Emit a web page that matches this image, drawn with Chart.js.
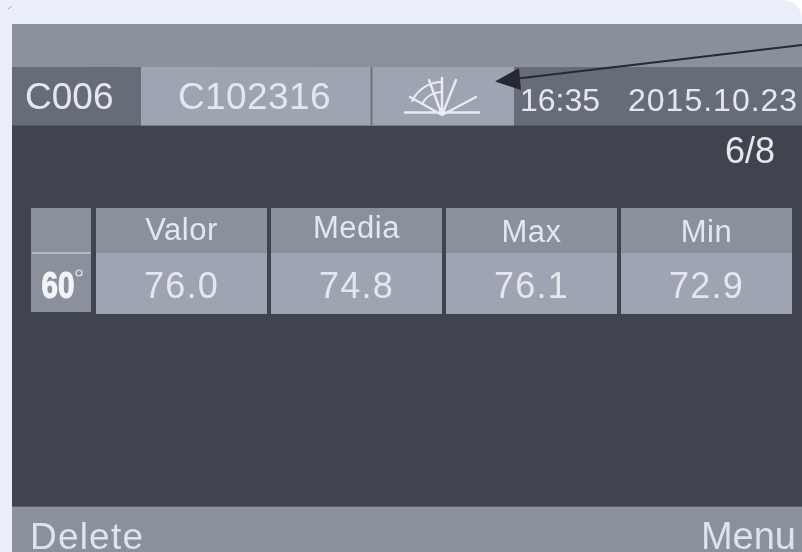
<!DOCTYPE html>
<html><head><meta charset="utf-8">
<style>
html,body{margin:0;padding:0;background:#e9eef8;overflow:hidden}
canvas{display:block;filter:blur(0.55px)}
</style>
<script src="https://cdn.jsdelivr.net/npm/chart.js@4"></script>
</head><body>
<canvas id="c" width="802" height="552"></canvas>
<script>
const categories = ["Valor", "Media", "Max", "Min"];
const values = [76.0, 74.8, 76.1, 72.9];
const angleLabel = "60";
const batchLabel = "C006";
const sampleLabel = "C102316";
const timeLabel = "16:35";
const dateLabel = "2015.10.23";
const pageLabel = "6/8";
const softKeys = ["Delete", "Menu"];

const FONT = '"Liberation Sans", Arial, sans-serif';
function txt(ctx, s, x, y, size, spacing, color, align) {
  ctx.font = size + "px " + FONT;
  ctx.letterSpacing = spacing + "px";
  ctx.fillStyle = color;
  ctx.textAlign = align || "left";
  ctx.textBaseline = "alphabetic";
  ctx.fillText(s, x, y);
}
function rect(ctx, c, x, y, w, h) { ctx.fillStyle = c; ctx.fillRect(x, y, w, h); }

const headerBaselines = [240, 238, 242, 242];

const panelPlugin = {
  id: "panel",
  beforeDatasetsDraw(chart) {
    const ctx = chart.ctx, xs = chart.scales.x;
    ctx.save();
    // page
    rect(ctx, "#e9eef8", 0, 0, 802, 552);
    ctx.fillStyle = "#ffffff";
    ctx.beginPath(); ctx.moveTo(802, 0); ctx.lineTo(780, 0);
    ctx.quadraticCurveTo(802, 0, 802, 22); ctx.closePath(); ctx.fill();
    ctx.strokeStyle = "#a8adb8"; ctx.lineWidth = 1;
    ctx.beginPath(); ctx.moveTo(8, 9); ctx.lineTo(12, 6); ctx.stroke();
    // panel
    rect(ctx, "#40444e", 12, 24, 790, 528);
    const g = ctx.createLinearGradient(12, 0, 802, 0);
    g.addColorStop(0, "#8b919d"); g.addColorStop(1, "#898f9b");
    rect(ctx, g, 12, 24, 790, 43);
    rect(ctx, "#676d78", 12, 67, 790, 58.5);
    rect(ctx, "#9ea4b1", 141, 67, 373, 58.5);
    rect(ctx, "#6f7580", 370.5, 67, 2, 58.5);
    rect(ctx, "#8a909c", 12, 507, 790, 45);
    rect(ctx, "#5a5f69", 12, 506, 790, 1);
    // icon
    ctx.strokeStyle = "#e8ebf2"; ctx.lineWidth = 2.4; ctx.lineCap = "round";
    const ix = 442, iy = 115;
    ctx.beginPath();
    ctx.moveTo(405, 112.5); ctx.lineTo(479, 112.5);
    [[456, 80], [476, 97], [442, 78], [429, 80], [410, 97]].forEach(p => { ctx.moveTo(ix, iy); ctx.lineTo(p[0], p[1]); });
    ctx.stroke();
    ctx.lineWidth = 2;
    ctx.beginPath(); ctx.arc(ix, iy, 33, Math.PI * 1.14, Math.PI * 1.5); ctx.stroke();
    ctx.beginPath(); ctx.arc(ix, iy, 23, Math.PI * 1.16, Math.PI * 1.5); ctx.stroke();
    // arrow
    ctx.strokeStyle = "#262835"; ctx.lineWidth = 2; ctx.lineCap = "butt";
    ctx.beginPath(); ctx.moveTo(802, 45); ctx.lineTo(505, 80); ctx.stroke();
    ctx.fillStyle = "#262835";
    ctx.beginPath(); ctx.moveTo(495, 81.5); ctx.lineTo(519, 68); ctx.lineTo(521, 90); ctx.closePath(); ctx.fill();
    // top row text
    const tc = "#e4e7ee";
    txt(ctx, batchLabel, 25, 109, 37, 0, tc);
    txt(ctx, sampleLabel, 178, 109, 37, 0.4, tc);
    txt(ctx, timeLabel, 520, 111, 32, 0, tc);
    txt(ctx, dateLabel, 628, 111, 32, 1, tc);
    txt(ctx, pageLabel, 725, 163, 36, 0, tc);
    // angle cell
    rect(ctx, "#8a909c", 31, 208, 60, 104);
    rect(ctx, "#b4b9c4", 32, 252, 59, 2);
    ctx.save();
    ctx.translate(41.5, 298);
    ctx.scale(0.8, 1);
    ctx.font = 'bold 37px ' + FONT; ctx.letterSpacing = "0px";
    ctx.fillStyle = "#f2f4f8"; ctx.textAlign = "left";
    ctx.lineWidth = 1.2; ctx.strokeStyle = "#f2f4f8";
    ctx.fillText(angleLabel, 0, 0);
    ctx.strokeText(angleLabel, 0, 0);
    ctx.restore();
    ctx.strokeStyle = "#e6e9f0"; ctx.lineWidth = 1.2;
    ctx.beginPath(); ctx.arc(79, 273, 3, 0, Math.PI * 2); ctx.stroke();
    // table cells, positioned by the category scale
    const cw = 171;
    categories.forEach((name, i) => {
      const cx = xs.getPixelForValue(i);
      rect(ctx, "#8a909c", cx - cw / 2, 208, cw, 45);
      rect(ctx, "#9ea4b1", cx - cw / 2, 253, cw, 61);
      txt(ctx, name, cx, headerBaselines[i], 31, 0.5, "#e2e7f0", "center");
      txt(ctx, values[i].toFixed(1), cx, 298, 36, 1.2, "#e4e7ee", "center");
    });
    // soft keys
    txt(ctx, softKeys[0], 30, 549, 37, 1.2, "#dfe3ea");
    txt(ctx, softKeys[1], 796, 549, 38, 0, "#dfe3ea", "right");
    ctx.restore();
  }
};

new Chart(document.getElementById("c"), {
  type: "bar",
  data: { labels: categories, datasets: [{ label: "60°", data: values, backgroundColor: "rgba(0,0,0,0)", borderWidth: 0 }] },
  options: {
    responsive: false,
    animation: false,
    events: [],
    layout: { padding: { left: 94, right: 8, top: 208, bottom: 238 } },
    plugins: { legend: { display: false }, tooltip: { enabled: false }, title: { display: false } },
    scales: { x: { display: false, offset: true }, y: { display: false, min: 0, max: 100 } }
  },
  plugins: [panelPlugin]
});
</script>
</body></html>
